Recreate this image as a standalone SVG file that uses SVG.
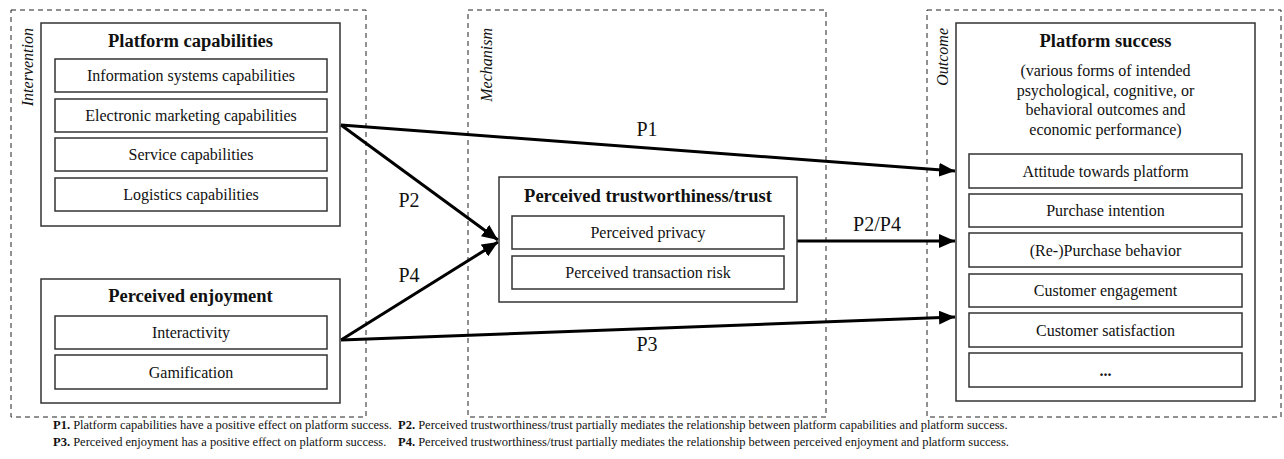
<svg xmlns="http://www.w3.org/2000/svg" width="1284" height="459" viewBox="0 0 1284 459" font-family="Liberation Serif, DejaVu Serif, serif">
  <style>
    text { font-family: "Liberation Serif", "DejaVu Serif", serif; fill: #111; }
    .zone { fill: none; stroke: #222; stroke-width: 1; stroke-dasharray: 5 4; }
    .zlabel { font-size: 16px; font-style: italic; text-anchor: end; }
    .box { fill: #fff; stroke: #333; stroke-width: 1.5; }
    .item { fill: #fff; stroke: #333; stroke-width: 1.5; }
    .title { font-size: 18.5px; font-weight: bold; text-anchor: middle; }
    .txt { font-size: 16px; text-anchor: middle; }
    .lbl { font-size: 20px; text-anchor: middle; }
    .edge { fill: none; stroke: #000; stroke-width: 3; marker-end: url(#head); }
    .note { font-size: 12.5px; }
    .note tspan.b { font-weight: bold; }
  </style>
  <defs>
    <marker id="head" markerUnits="userSpaceOnUse" markerWidth="16" markerHeight="14" refX="16" refY="7" orient="auto">
      <path d="M0,0 L16,7 L0,14 Z" fill="#000"/>
    </marker>
  </defs>

  <!-- stage zones -->
  <g id="zones">
    <rect class="zone" x="11" y="10" width="355" height="407"/>
    <text class="zlabel" transform="translate(33,28) rotate(-90)">Intervention</text>
    <rect class="zone" x="468" y="10" width="358" height="407"/>
    <text class="zlabel" transform="translate(492,28) rotate(-90)">Mechanism</text>
    <rect class="zone" x="927" y="10" width="354" height="407"/>
    <text class="zlabel" transform="translate(948,28) rotate(-90)">Outcome</text>
  </g>

  <!-- connectors -->
  <g id="connectors">
    <line class="edge" x1="341" y1="125" x2="955" y2="171"/>
    <line class="edge" x1="341" y1="125" x2="498" y2="240"/>
    <line class="edge" x1="341" y1="340" x2="498" y2="242"/>
    <line class="edge" x1="797" y1="241" x2="955" y2="241"/>
    <line class="edge" x1="341" y1="340" x2="955" y2="317"/>
    <text class="lbl" x="647" y="136">P1</text>
    <text class="lbl" x="409" y="207">P2</text>
    <text class="lbl" x="409" y="282">P4</text>
    <text class="lbl" x="877" y="231">P2/P4</text>
    <text class="lbl" x="647" y="351">P3</text>
  </g>

  <!-- intervention: platform capabilities -->
  <g id="platform-capabilities">
    <rect class="box" x="41" y="23" width="299" height="203"/>
    <text class="title" x="190.5" y="47">Platform capabilities</text>
    <rect class="item" x="55" y="59" width="272" height="33"/>
    <text class="txt" x="191" y="81">Information systems capabilities</text>
    <rect class="item" x="55" y="99" width="272" height="33"/>
    <text class="txt" x="191" y="121">Electronic marketing capabilities</text>
    <rect class="item" x="55" y="138" width="272" height="33"/>
    <text class="txt" x="191" y="160">Service capabilities</text>
    <rect class="item" x="55" y="178" width="272" height="33"/>
    <text class="txt" x="191" y="200">Logistics capabilities</text>
  </g>

  <!-- intervention: perceived enjoyment -->
  <g id="perceived-enjoyment">
    <rect class="box" x="41" y="279" width="299" height="124"/>
    <text class="title" x="190.5" y="302">Perceived enjoyment</text>
    <rect class="item" x="55" y="316" width="272" height="33"/>
    <text class="txt" x="191" y="338">Interactivity</text>
    <rect class="item" x="55" y="355" width="272" height="34"/>
    <text class="txt" x="191" y="377.5">Gamification</text>
  </g>

  <!-- mechanism: trust -->
  <g id="perceived-trust">
    <rect class="box" x="499" y="177" width="298" height="125"/>
    <text class="title" x="648" y="202">Perceived trustworthiness/trust</text>
    <rect class="item" x="512" y="216" width="272" height="33"/>
    <text class="txt" x="648" y="238">Perceived privacy</text>
    <rect class="item" x="512" y="256" width="272" height="33"/>
    <text class="txt" x="648" y="278">Perceived transaction risk</text>
  </g>

  <!-- outcome: platform success -->
  <g id="platform-success">
    <rect class="box" x="956" y="23" width="299" height="378"/>
    <text class="title" x="1105.5" y="47">Platform success</text>
    <text class="txt" x="1105.5" y="76">(various forms of intended</text>
    <text class="txt" x="1105.5" y="95.5">psychological, cognitive, or</text>
    <text class="txt" x="1105.5" y="115">behavioral outcomes and</text>
    <text class="txt" x="1105.5" y="134.5">economic performance)</text>
    <rect class="item" x="969" y="154" width="273" height="34"/>
    <text class="txt" x="1105.5" y="176.5">Attitude towards platform</text>
    <rect class="item" x="969" y="194" width="273" height="33"/>
    <text class="txt" x="1105.5" y="216">Purchase intention</text>
    <rect class="item" x="969" y="233" width="273" height="34"/>
    <text class="txt" x="1105.5" y="255.5">(Re-)Purchase behavior</text>
    <rect class="item" x="969" y="274" width="273" height="33"/>
    <text class="txt" x="1105.5" y="296">Customer engagement</text>
    <rect class="item" x="969" y="313" width="273" height="34"/>
    <text class="txt" x="1105.5" y="335.5">Customer satisfaction</text>
    <rect class="item" x="969" y="353" width="273" height="34"/>
    <text class="txt" x="1105.5" y="375.5" font-weight="bold">...</text>
  </g>

  <!-- propositions -->
  <g id="propositions">
    <text class="note" x="53" y="429"><tspan class="b">P1.</tspan> Platform capabilities have a positive effect on platform success.</text>
    <text class="note" x="53" y="446"><tspan class="b">P3.</tspan> Perceived enjoyment has a positive effect on platform success.</text>
    <text class="note" x="398" y="429"><tspan class="b">P2.</tspan> Perceived trustworthiness/trust partially mediates the relationship between platform capabilities and platform success.</text>
    <text class="note" x="398" y="446"><tspan class="b">P4.</tspan> Perceived trustworthiness/trust partially mediates the relationship between perceived enjoyment and platform success.</text>
  </g>
</svg>
